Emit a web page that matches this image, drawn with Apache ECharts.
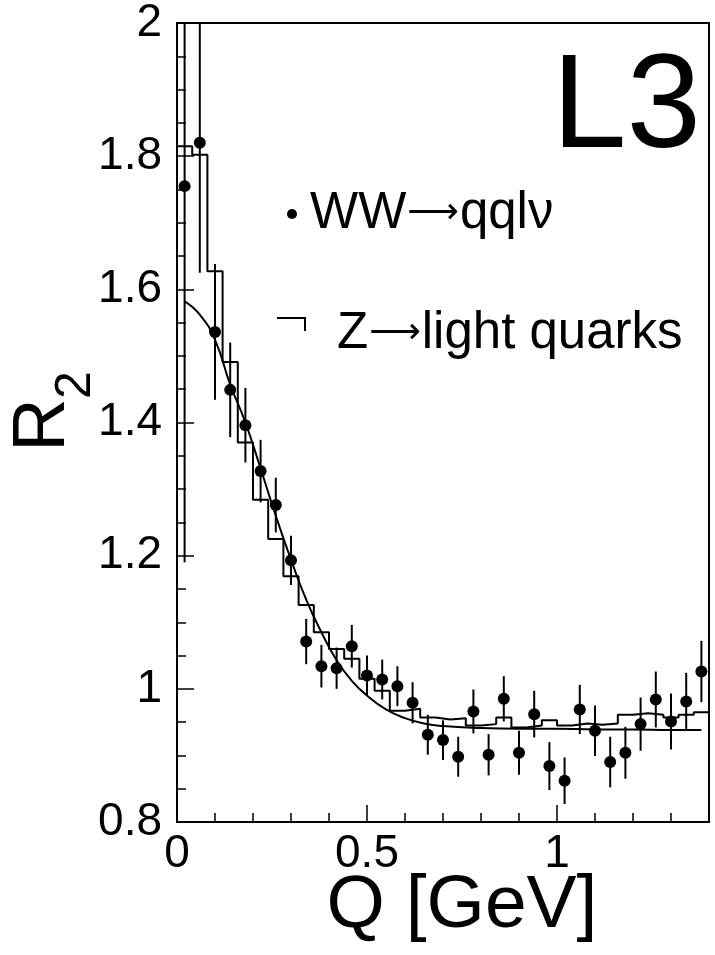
<!DOCTYPE html>
<html>
<head>
<meta charset="utf-8">
<script src="https://cdn.jsdelivr.net/npm/echarts@6/dist/echarts.min.js"></script>
<style>
  html, body { margin: 0; padding: 0; background: #fff; }
  #chart { width: 715px; height: 955px; }
</style>
</head>
<body>
<div id="chart"></div>
<script>
// Bin centres of Q (GeV), bins are 0.04 GeV wide
const qCenters = [0.02, 0.06, 0.10, 0.14, 0.18, 0.22, 0.26, 0.30, 0.34, 0.38,
                  0.42, 0.46, 0.50, 0.54, 0.58, 0.62, 0.66, 0.70, 0.74, 0.78,
                  0.82, 0.86, 0.90, 0.94, 0.98, 1.02, 1.06, 1.10, 1.14, 1.18,
                  1.22, 1.26, 1.30, 1.34, 1.38];
const binHalfWidth = 0.02;

// WW -> qqlnu measurement and its uncertainty
const wwR2 = [1.755, 1.820, 1.536, 1.449, 1.396, 1.327, 1.276, 1.193, 1.071, 1.034,
              1.031, 1.064, 1.020, 1.014, 1.004, 0.979, 0.931, 0.923, 0.898, 0.966,
              0.901, 0.985, 0.904, 0.962, 0.884, 0.862, 0.969, 0.937, 0.890, 0.904,
              0.947, 0.984, 0.951, 0.981, 1.026];
const wwErr = [0.565, 0.195, 0.102, 0.071, 0.056, 0.047, 0.041, 0.037, 0.034, 0.032,
               0.031, 0.032, 0.030, 0.030, 0.030, 0.031, 0.030, 0.030, 0.030, 0.033,
               0.031, 0.034, 0.033, 0.035, 0.036, 0.035, 0.037, 0.038, 0.038, 0.039,
               0.040, 0.042, 0.042, 0.043, 0.046];

// Z -> light quarks reference histogram
const zHist = [1.815, 1.802, 1.627, 1.491, 1.370, 1.284, 1.225, 1.169, 1.126, 1.085,
               1.060, 1.045, 1.015, 0.997, 0.967, 0.970, 0.957, 0.954, 0.956, 0.945,
               0.947, 0.957, 0.942, 0.945, 0.953, 0.945, 0.948, 0.946, 0.948, 0.961,
               0.9635, 0.961, 0.957, 0.961, 0.965];

// Fitted curve
const fitQ  = [0.02, 0.06, 0.10, 0.14, 0.18, 0.22, 0.26, 0.30, 0.34, 0.38,
               0.42, 0.46, 0.50, 0.55, 0.60, 0.65, 0.70, 0.80, 0.90, 1.00,
               1.10, 1.20, 1.30, 1.38];
const fitR2 = [1.582, 1.562, 1.524, 1.457, 1.400, 1.331, 1.260, 1.194, 1.134, 1.085,
               1.043, 1.012, 0.990, 0.969, 0.956, 0.948, 0.944, 0.941, 0.940, 0.940,
               0.939, 0.939, 0.938, 0.938];

// Labelled x ticks
const xLabelled = [0, 0.5, 1];

const FONT = '"Liberation Sans", Arial, Helvetica, sans-serif';

const histPoints = [];
qCenters.forEach((q, i) => {
  histPoints.push([q - binHalfWidth, zHist[i]]);
  histPoints.push([q + binHalfWidth, zHist[i]]);
});

const chart = echarts.init(document.getElementById('chart'), null, { renderer: 'canvas' });

const legendRich = {
  t: { fontFamily: FONT, fontSize: 51, color: '#000' },
  a: { fontFamily: '"DejaVu Sans", sans-serif', fontSize: 36, color: '#000', padding: [0, 1, 0, 1] }
};

const option = {
  animation: false,
  backgroundColor: '#fff',
  grid: {
    left: 177, top: 23, width: 532, height: 799,
    show: true, borderColor: '#000', borderWidth: 2, backgroundColor: 'transparent'
  },
  xAxis: [{
    type: 'value', min: 0, max: 1.4, interval: 0.1,
    axisLine: { show: true, lineStyle: { color: '#000', width: 2 } },
    axisTick: { show: true, inside: true, length: 9, lineStyle: { color: '#000', width: 1.5 } },
    axisLabel: {
      color: '#000', fontFamily: FONT, fontSize: 46, margin: 9,
      showMaxLabel: false,
      formatter: v => {
        const hit = xLabelled.find(t => Math.abs(t - v) < 1e-6);
        return hit === undefined ? '' : String(hit);
      }
    },
    splitLine: { show: false }
  }, {
    type: 'value', min: 0, max: 1.4, interval: 0.5, position: 'bottom',
    axisLine: { show: false },
    axisTick: { show: true, inside: true, length: 17, lineStyle: { color: '#000', width: 1.5 } },
    axisLabel: { show: false },
    splitLine: { show: false }
  }],
  yAxis: {
    type: 'value', min: 0.8, max: 2, interval: 0.2,
    axisLine: { show: true, lineStyle: { color: '#000', width: 2 } },
    axisTick: { show: true, inside: true, length: 17, lineStyle: { color: '#000', width: 1.5 } },
    minorTick: { show: true, splitNumber: 4, length: 9, lineStyle: { color: '#000', width: 1.5 } },
    axisLabel: { color: '#000', fontFamily: FONT, fontSize: 46, margin: 15 },
    splitLine: { show: false }
  },
  series: [{
    name: 'Z→light quarks',
    type: 'line',
    data: histPoints,
    showSymbol: false, symbol: 'none',
    lineStyle: { color: '#000', width: 2 },
    clip: true, z: 2
  }, {
    name: 'fit',
    type: 'line',
    data: fitQ.map((q, i) => [q, fitR2[i]]),
    smooth: 0.5,
    showSymbol: false, symbol: 'none',
    lineStyle: { color: '#000', width: 2 },
    clip: true, z: 3
  }, {
    name: 'errors',
    type: 'custom',
    data: qCenters.map((q, i) => [q, wwR2[i] - wwErr[i], wwR2[i] + wwErr[i]]),
    encode: { x: 0, y: [1, 2] },
    clip: true, z: 4,
    renderItem: (params, api) => {
      const a = api.coord([api.value(0), api.value(1)]);
      const b = api.coord([api.value(0), api.value(2)]);
      return { type: 'line', shape: { x1: a[0], y1: a[1], x2: b[0], y2: b[1] },
               style: { stroke: '#000', lineWidth: 2 } };
    }
  }, {
    name: 'WW→qqlν',
    type: 'scatter',
    data: qCenters.map((q, i) => [q, wwR2[i]]),
    symbol: 'circle', symbolSize: 12,
    itemStyle: { color: '#000', opacity: 1 },
    clip: true, z: 5
  }],
  graphic: [
    // experiment tag
    { type: 'text', x: 701, y: 110,
      style: { text: 'L3', fontFamily: FONT, fontSize: 134, fill: '#000', align: 'right', verticalAlign: 'middle' } },
    // legend entries
    { type: 'circle', shape: { cx: 292, cy: 214, r: 5 }, style: { fill: '#000' } },
    { type: 'text', x: 310, y: 214,
      style: { text: '{t|WW}{a|⟶}{t|qqlν}', rich: legendRich, align: 'left', verticalAlign: 'middle' } },
    { type: 'polyline', shape: { points: [[277, 318], [305, 318], [305, 331]] },
      style: { stroke: '#000', lineWidth: 2, fill: null } },
    { type: 'text', x: 337, y: 334,
      style: { text: '{t|Z}{a|⟶}{t|light quarks}', rich: legendRich, align: 'left', verticalAlign: 'middle' } },
    // axis titles
    { type: 'text', x: 44, y: 425, rotation: Math.PI / 2,
      style: { text: 'R', fontFamily: FONT, fontSize: 74, fill: '#000', align: 'center', verticalAlign: 'middle' } },
    { type: 'text', x: 76, y: 385, rotation: Math.PI / 2,
      style: { text: '2', fontFamily: FONT, fontSize: 50, fill: '#000', align: 'center', verticalAlign: 'middle' } },
    { type: 'text', x: 462, y: 906,
      style: { text: 'Q [GeV]', fontFamily: FONT, fontSize: 75, fill: '#000', align: 'center', verticalAlign: 'middle' } }
  ]
};

chart.setOption(option);
</script>
</body>
</html>
